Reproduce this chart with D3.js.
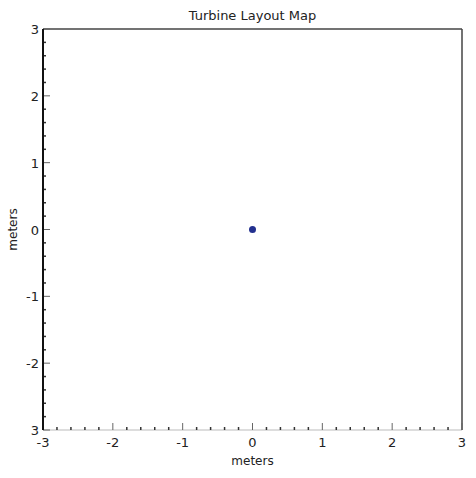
<!DOCTYPE html>
<html>
<head>
<meta charset="utf-8">
<script src="https://cdn.jsdelivr.net/npm/d3@7"></script>
<style>
  body { margin: 0; background: #fff; }
  text { font-family: "DejaVu Sans", sans-serif; fill: #222; }
</style>
</head>
<body>
<div id="chart"></div>
<script>
// turbine positions (meters)
const turbineX = [0];
const turbineY = [0];
const xTicks = [-3, -2, -1, 0, 1, 2, 3];
const yTicks = [-3, -2, -1, 0, 1, 2, 3];
// the original plot shows "3" at the bottom of the y axis
const yTickLabels = ["3", "-2", "-1", "0", "1", "2", "3"];
const minorStep = 0.2;

const width = 476, height = 478;
const margin = {top: 29, right: 14, bottom: 48, left: 43};

const svg = d3.select("#chart").append("svg")
    .attr("width", width)
    .attr("height", height);

const x = d3.scaleLinear().domain([-3, 3]).range([margin.left, width - margin.right]);
const y = d3.scaleLinear().domain([-3, 3]).range([height - margin.bottom, margin.top]);

const minor = d3.range(-3, 3.0001, minorStep).filter(v => Math.abs(v - Math.round(v)) > 1e-6);

// frame
svg.append("line").attr("x1", x(-3)).attr("x2", x(3)).attr("y1", y(-3)).attr("y2", y(-3))
    .attr("stroke", "#bbb").attr("stroke-width", 1);
svg.append("line").attr("x1", x(-3)).attr("x2", x(3)).attr("y1", y(3)).attr("y2", y(3))
    .attr("stroke", "#444").attr("stroke-width", 1.5);
svg.append("line").attr("x1", x(3)).attr("x2", x(3)).attr("y1", y(3)).attr("y2", y(-3))
    .attr("stroke", "#444").attr("stroke-width", 1.5);

// x ticks (inward)
svg.selectAll(".xmaj").data(xTicks).enter().append("line")
    .attr("x1", d => x(d)).attr("x2", d => x(d))
    .attr("y1", y(-3)).attr("y2", y(-3) - 7)
    .attr("stroke", "#666").attr("stroke-width", 1);
svg.selectAll(".xmin").data(minor).enter().append("line")
    .attr("x1", d => x(d)).attr("x2", d => x(d))
    .attr("y1", y(-3)).attr("y2", y(-3) - 3)
    .attr("stroke", "#333").attr("stroke-width", 1.5);
svg.selectAll(".xlab").data(xTicks).enter().append("text")
    .attr("x", d => x(d)).attr("y", y(-3) + 17)
    .attr("text-anchor", "middle").attr("font-size", 13)
    .text(d => d);

// y ticks (inward)
svg.selectAll(".ymaj").data(yTicks).enter().append("line")
    .attr("x1", x(-3)).attr("x2", x(-3) + 7)
    .attr("y1", d => y(d)).attr("y2", d => y(d))
    .attr("stroke", "#666").attr("stroke-width", 1);
svg.selectAll(".ymin").data(minor).enter().append("line")
    .attr("x1", x(-3)).attr("x2", x(-3) + 3)
    .attr("y1", d => y(d)).attr("y2", d => y(d))
    .attr("stroke", "#333").attr("stroke-width", 1.5);
svg.selectAll(".ylab").data(yTicks).enter().append("text")
    .attr("x", x(-3) - 4).attr("y", d => y(d) + 5)
    .attr("text-anchor", "end").attr("font-size", 13)
    .text((d, i) => yTickLabels[i]);

// left axis line
svg.append("line").attr("x1", x(-3)).attr("x2", x(-3)).attr("y1", y(3)).attr("y2", y(-3))
    .attr("stroke", "#111").attr("stroke-width", 2);

// turbines
svg.selectAll("circle").data(turbineX).enter().append("circle")
    .attr("cx", d => x(d))
    .attr("cy", (d, i) => y(turbineY[i]))
    .attr("r", 3.5)
    .attr("fill", "#23308f");

// labels
svg.append("text").attr("x", x(0)).attr("y", 20)
    .attr("text-anchor", "middle").attr("font-size", 13)
    .text("Turbine Layout Map");
svg.append("text").attr("x", x(0)).attr("y", 465)
    .attr("text-anchor", "middle").attr("font-size", 12)
    .text("meters");
svg.append("text")
    .attr("transform", "translate(17," + y(0) + ") rotate(-90)")
    .attr("text-anchor", "middle").attr("font-size", 12)
    .text("meters");
</script>
</body>
</html>
